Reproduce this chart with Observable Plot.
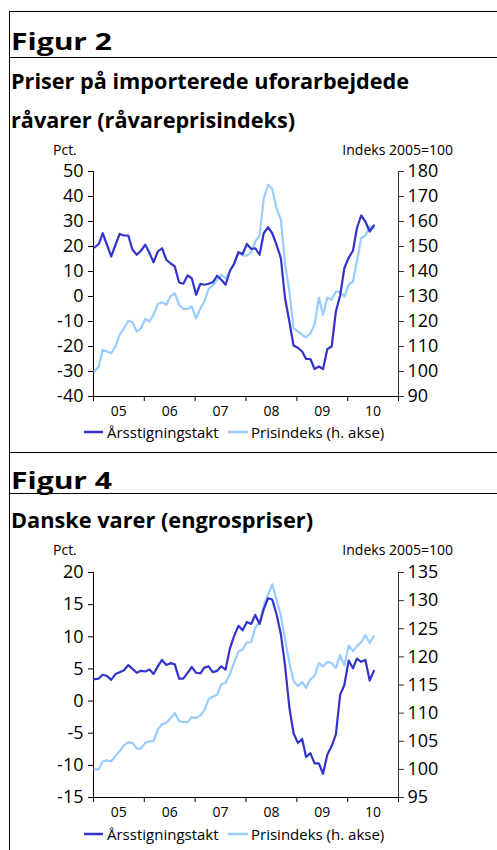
<!DOCTYPE html>
<html>
<head>
<meta charset="utf-8">
<script src="https://cdn.jsdelivr.net/npm/d3@7"></script>
<script src="https://cdn.jsdelivr.net/npm/@observablehq/plot@0.6"></script>
<style>
  body { margin: 0; background: #fff; }
  #page { position: relative; width: 497px; height: 850px; overflow: hidden; background: #fff; font-family: "Open Sans", sans-serif; }
  #page > div.chart { position: absolute; left: 0; }
  #overlay { position: absolute; left: 0; top: 0; pointer-events: none; }
</style>
</head>
<body>
<div id="page">
  <div class="chart" id="c1" style="top:140px"></div>
  <div class="chart" id="c2" style="top:545px"></div>
  <svg id="overlay" width="497" height="850"></svg>
</div>
<script>
// ---------- DATA ----------
const yearLabels = ["05", "06", "07", "08", "09", "10"];
const seriesNames = ["Årsstigningstakt", "Prisindeks (h. akse)"];

// Figur 2 (monthly Jan 2005 – Jul 2010)
const fig2Title = ["Priser på importerede uforarbejdede", "råvarer (råvareprisindeks)"];
const fig2LeftTicks = [50, 40, 30, 20, 10, 0, -10, -20, -30, -40];
const fig2RightTicks = [180, 170, 160, 150, 140, 130, 120, 110, 100, 90];
const fig2Growth = [
  19.6, 21, 25.3, 20.7, 16, 20.7, 25, 24.4, 24.4, 18.7, 16.7, 18.3,
  20.7, 17.3, 13.7, 18, 19.3, 14.7, 13.3, 12, 5.6, 5.1, 8.4, 7.3,
  0.7, 5.1, 4.7, 5.1, 5.7, 8.3, 6.7, 4.7, 10.3, 13, 17.7, 17,
  21, 19, 19.3, 16.7, 25.3, 27.7, 25.3, 20.7, 15.3, -0.7, -10, -19.6,
  -20.5, -22, -25, -25, -29, -28, -29, -21, -20, -6, 0.5, 11.3,
  15.5, 18.3, 27.3, 32.4, 30, 26, 28.4
];
const fig2Index = [
  100, 102, 108.7, 108, 107.3, 110, 114.7, 117.3, 120.3, 119.7, 116, 117.3,
  121, 120, 122.7, 127, 127.7, 126.7, 130, 131.3, 126.7, 125, 125, 126,
  121.3, 125.3, 128, 133, 134.4, 136.7, 138.7, 137.3, 140, 143.3, 147.7, 146.4,
  146.4, 147.7, 152, 154.4, 169.3, 174.7, 173, 165.3, 160.7, 143, 132, 117.3,
  116, 114.7, 113.6, 115.3, 118.7, 129.6, 122.7, 129.6, 128.7, 132, 131.7, 130,
  134.7, 136, 144, 153.3, 154.4, 158, 157.3
];

// Figur 4 (monthly Jan 2005 – Jul 2010)
const fig4Title = ["Danske varer (engrospriser)"];
const fig4LeftTicks = [20, 15, 10, 5, 0, -5, -10, -15];
const fig4RightTicks = [135, 130, 125, 120, 115, 110, 105, 100, 95];
const fig4Growth = [
  3.4, 3.5, 4.1, 3.9, 3.3, 4.2, 4.5, 4.8, 5.6, 5.0, 4.4, 4.7,
  4.6, 4.9, 4.2, 5.4, 6.4, 5.6, 5.9, 5.7, 3.5, 3.5, 4.4, 5.3,
  4.4, 4.3, 5.2, 5.4, 4.5, 4.7, 5.4, 4.9, 8.2, 10.1, 11.7, 11.0,
  12.3, 12.0, 13.4, 12.0, 14.3, 16.0, 15.8, 13.5, 10.4, 5.5, -1.0, -5.0,
  -6.5, -5.9, -8.7, -8.1, -9.7, -9.7, -11.3, -8.3, -7.0, -5.2, 1.0, 2.5,
  6.3, 5.1, 6.6, 6.1, 6.4, 3.2, 4.7
];
const fig4Index = [
  100.0, 100.0, 101.4, 101.6, 101.4, 102.4, 103.2, 104.3, 104.8, 104.7, 103.7, 103.7,
  104.7, 105.0, 105.0, 107.1, 108.0, 108.3, 109.1, 110.0, 108.6, 108.4, 108.4, 109.3,
  109.1, 109.6, 110.5, 112.5, 112.9, 113.3, 115.1, 115.4, 116.9, 119.0, 120.9, 121.3,
  122.6, 122.6, 125.2, 126.1, 129.1, 131.1, 132.9, 130.2, 127.3, 123.1, 119.0, 115.7,
  114.8, 115.5, 114.5, 116.0, 116.6, 118.9, 118.3, 119.1, 118.9, 118.0, 120.3, 118.5,
  122.0, 121.0, 121.9, 122.6, 123.9, 122.5, 123.7
];

// ---------- STYLE ----------
const DARK = "#3333CC";
const LIGHT = "#99CCFF";
const FONT = '"Open Sans", sans-serif';

const x0 = new Date(Date.UTC(2005, 0, 1));
const x1 = new Date(Date.UTC(2011, 0, 1));
const yearStarts = d3.range(2005, 2012).map(y => new Date(Date.UTC(y, 0, 1)));
const yearMids = d3.range(2005, 2011).map(y => new Date(Date.UTC(y, 6, 2)));

function monthDate(i) { return new Date(Date.UTC(2005, i, 8)); }

function makeChart(cfg) {
  const { leftMin, leftMax, rightMin, rightMax } = cfg;
  const toLeft = r => leftMin + (r - rightMin) * (leftMax - leftMin) / (rightMax - rightMin);
  const toRight = l => rightMin + (l - leftMin) * (rightMax - rightMin) / (leftMax - leftMin);
  const data = cfg.growth.map((g, i) => ({ date: monthDate(i), growth: g, index: toLeft(cfg.index[i]) }));
  return Plot.plot({
    width: 497,
    height: cfg.height,
    marginLeft: 93,
    marginRight: 99,
    marginTop: cfg.mt,
    marginBottom: cfg.mb,
    style: { fontFamily: FONT, background: "transparent", color: "#000", overflow: "visible" },
    x: { type: "utc", domain: [x0, x1] },
    y: { domain: [leftMin, leftMax] },
    marks: [
      Plot.axisY(cfg.leftTicks, { anchor: "left", tickSize: 5, tickPadding: 5, fontSize: 18, label: null, tickFormat: d => String(d) }),
      Plot.axisY(cfg.rightTicks.map(toLeft), { anchor: "right", tickSize: 5, tickPadding: 4, fontSize: 18, label: null, stroke: "#333", tickFormat: d => String(Math.round(toRight(d))) }),
      Plot.axisX(yearStarts, { tickSize: 5, tickFormat: () => "", label: null }),
      Plot.axisX(yearMids, { tickSize: 0, tickPadding: 10, fontSize: 14, label: null, tickFormat: (d) => yearLabels[d.getUTCFullYear() - 2005] }),
      Plot.ruleY([leftMin], { stroke: "#000" }),
      Plot.ruleX([x0], { stroke: "#000" }),
      Plot.ruleX([x1], { stroke: "#333" }),
      Plot.line(data, { x: "date", y: "index", stroke: LIGHT, strokeWidth: 2.2 }),
      Plot.line(data, { x: "date", y: "growth", stroke: DARK, strokeWidth: 2.2 })
    ]
  });
}

document.getElementById("c1").append(makeChart({
  growth: fig2Growth, index: fig2Index,
  leftTicks: fig2LeftTicks, rightTicks: fig2RightTicks,
  leftMin: -40, leftMax: 50, rightMin: 90, rightMax: 180,
  height: 310, mt: 31, mb: 54
}));
document.getElementById("c2").append(makeChart({
  growth: fig4Growth, index: fig4Index,
  leftTicks: fig4LeftTicks, rightTicks: fig4RightTicks,
  leftMin: -15, leftMax: 20, rightMin: 95, rightMax: 135,
  height: 290, mt: 27, mb: 38
}));

// ---------- OVERLAY: frame, headings, axis titles, legends ----------
const svg = d3.select("#overlay").style("font-family", FONT);
function hline(y) { svg.append("line").attr("x1", 9).attr("x2", 497).attr("y1", y).attr("y2", y).attr("stroke", "#000").attr("stroke-width", 1); }
svg.append("line").attr("x1", 9.5).attr("x2", 9.5).attr("y1", 11).attr("y2", 850).attr("stroke", "#000");
[11.5, 57.5, 452.5, 493.5].forEach(hline);

function text(str, x, y, size, weight, anchor, len) {
  const t = svg.append("text").attr("x", x).attr("y", y).attr("font-size", size)
    .attr("font-weight", weight || 400).attr("text-anchor", anchor || "start").attr("fill", "#000").text(str);
  if (len) t.attr("textLength", len).attr("lengthAdjust", "spacingAndGlyphs");
  return t;
}
// Figur 2
text("Figur 2", 11, 50, 24, 700, "start", 101);
text(fig2Title[0], 11, 89, 22, 700, "start", 398);
text(fig2Title[1], 11, 128, 22, 700, "start", 284);
text("Pct.", 53, 155, 14);
text("Indeks  2005=100", 453, 155, 14, 400, "end");
// Figur 4
text("Figur 4", 11, 489, 24, 700, "start", 101);
text(fig4Title[0], 11, 528, 22, 700, "start", 302);
text("Pct.", 53, 555, 14);
text("Indeks  2005=100", 453, 555, 14, 400, "end");

function legend(y) {
  svg.append("line").attr("x1", 84).attr("x2", 103).attr("y1", y).attr("y2", y).attr("stroke", DARK).attr("stroke-width", 2.5);
  text(seriesNames[0], 107, y + 5.5, 15);
  svg.append("line").attr("x1", 228).attr("x2", 248).attr("y1", y).attr("y2", y).attr("stroke", LIGHT).attr("stroke-width", 2.5);
  text(seriesNames[1], 251, y + 5.5, 15);
}
legend(432);
legend(834);
</script>
</body>
</html>
